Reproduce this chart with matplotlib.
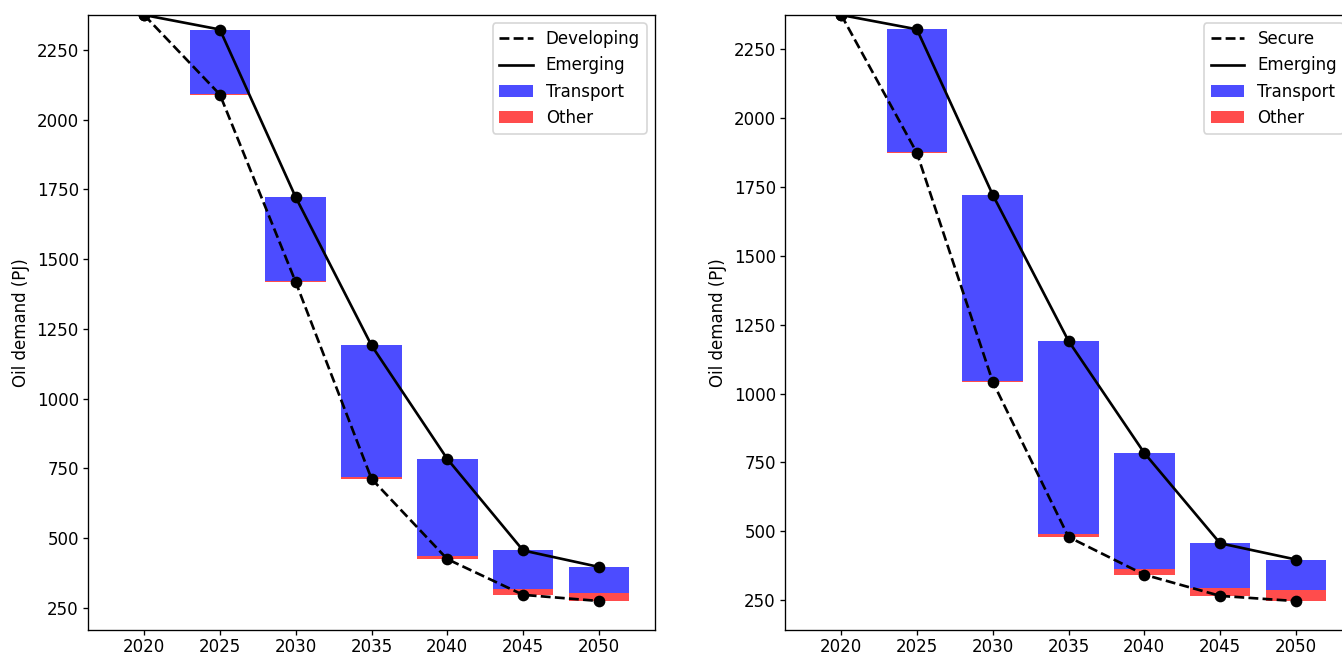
import numpy as np
import matplotlib
matplotlib.use("Agg")
import matplotlib.pyplot as plt
from matplotlib.lines import Line2D
from matplotlib.patches import Patch


# Oil demand per scenario (PJ)
years = [2020, 2025, 2030, 2035, 2040, 2045, 2050]
emerging = [2375, 2323, 1722, 1191, 784, 456, 397]

developing = [2375, 2090, 1418, 713, 425, 297, 275]
other_dev = [0, 2, 3, 5, 12, 20, 28]

secure = [2376, 1874, 1043, 479, 342, 265, 246]
other_sec = [0, 2, 3, 10, 19, 27, 41]

blue = (0, 0, 1, 0.7)
red = (1, 0, 0, 0.7)


def panel(ax, scen, other, scen_label, ymin):
    scen = np.array(scen)
    other = np.array(other)
    transport = np.array(emerging) - scen - other

    ax.bar(years, other, width=4, bottom=scen, color=red)
    ax.bar(years, transport, width=4, bottom=scen + other, color=blue)
    ax.plot(years, scen, 'k--', marker='o', lw=1.6)
    ax.plot(years, emerging, 'k-', marker='o', lw=1.6)

    ax.set_xticks(years)
    ax.set_xlim(2016.3, 2053.7)
    ax.set_ylim(ymin, emerging[0])
    ax.set_ylabel('Oil demand (PJ)')
    ax.tick_params(length=3, pad=2.5)
    ax.tick_params(axis='x', pad=1.5)

    handles = [
        Line2D([], [], color='k', ls='--', lw=1.6),
        Line2D([], [], color='k', ls='-', lw=1.6),
        Patch(facecolor=blue, linewidth=0),
        Patch(facecolor=red, linewidth=0),
    ]
    ax.legend(handles, [scen_label, 'Emerging', 'Transport', 'Other'],
              loc='upper right')


fig = plt.figure(figsize=(1342 / 120, 656 / 120), dpi=120)
ax1 = fig.add_axes([88 / 1342, 26 / 656, 567 / 1342, 615 / 656])
ax2 = fig.add_axes([785 / 1342, 26 / 656, 567 / 1342, 615 / 656])

panel(ax1, developing, other_dev, 'Developing', 171)
panel(ax2, secure, other_sec, 'Secure', 141)

fig.savefig('out.png', dpi=120)
